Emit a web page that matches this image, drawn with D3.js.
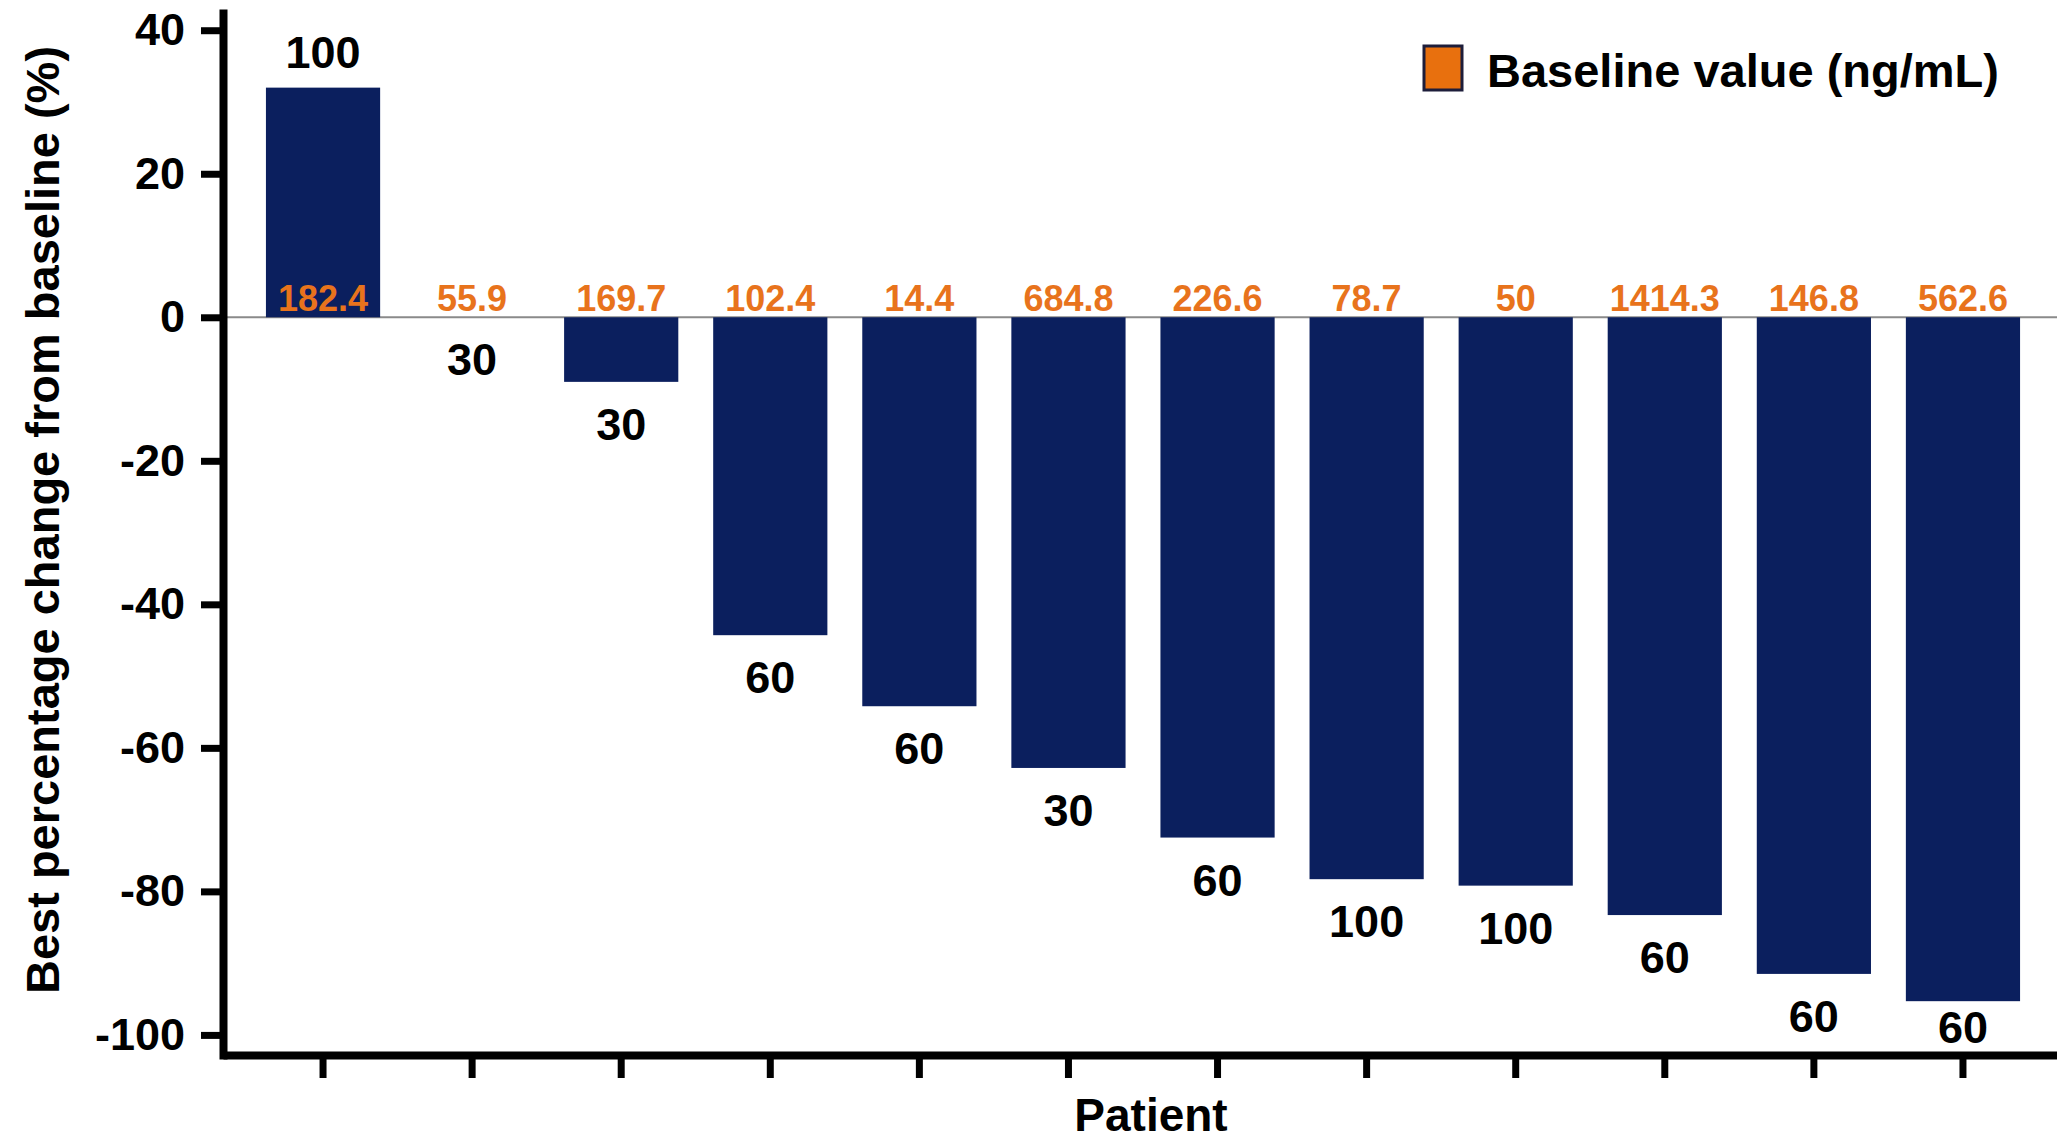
<!DOCTYPE html>
<html>
<head>
<meta charset="utf-8">
<script src="https://cdn.jsdelivr.net/npm/d3@7"></script>
<style>
  html, body { margin: 0; padding: 0; background: #fff; }
  svg { display: block; }
  text { font-family: "Liberation Sans", Arial, sans-serif; font-weight: bold; }
</style>
</head>
<body>
<svg id="chart" width="2057" height="1143"></svg>
<script>
// ---- data ----
const patients = ["P1","P2","P3","P4","P5","P6","P7","P8","P9","P10","P11","P12"];
const bestChange = [32.0, 0, -9.0, -44.3, -54.2, -62.8, -72.5, -78.3, -79.2, -83.3, -91.5, -95.3];
const doseLabels = ["100","30","30","60","60","30","60","100","100","60","60","60"];
const baselineValues = ["182.4","55.9","169.7","102.4","14.4","684.8","226.6","78.7","50","1414.3","146.8","562.6"];
const yTicks = [40, 20, 0, -20, -40, -60, -80, -100];
const legendLabel = "Baseline value (ng/mL)";
const yTitle = "Best percentage change from baseline (%)";
const xTitle = "Patient";

// ---- layout ----
const W = 2057, H = 1143;
const axisX = 223, axisY = 1055, topY = 13;
const navy = "#0b1f5e", orange = "#E8731C";

const svg = d3.select("#chart");

const x = d3.scaleBand()
  .domain(patients)
  .range([axisX, 2063])
  .paddingInner(0.234)
  .paddingOuter(0.288);

const y = d3.scaleLinear()
  .domain([-102.8, 42.4])
  .range([axisY, topY]);

// zero line
svg.append("line")
  .attr("x1", axisX).attr("x2", W)
  .attr("y1", y(0)).attr("y2", y(0))
  .attr("stroke", "#8a8a8a").attr("stroke-width", 2);

// bars
svg.append("g").selectAll("rect")
  .data(patients)
  .join("rect")
  .attr("x", d => x(d))
  .attr("width", x.bandwidth())
  .attr("y", (d, i) => y(Math.max(0, bestChange[i])))
  .attr("height", (d, i) => Math.abs(y(bestChange[i]) - y(0)))
  .attr("fill", navy);

// baseline value labels (orange)
svg.append("g").selectAll("text")
  .data(patients)
  .join("text")
  .attr("x", d => x(d) + x.bandwidth() / 2)
  .attr("y", y(0) - 6)
  .attr("text-anchor", "middle")
  .attr("font-size", 36)
  .attr("fill", orange)
  .text((d, i) => baselineValues[i]);

// dose labels (black)
svg.append("g").selectAll("text")
  .data(patients)
  .join("text")
  .attr("x", d => x(d) + x.bandwidth() / 2)
  .attr("y", (d, i) => {
    const v = bestChange[i];
    if (v > 0) return y(v) - 20;
    return Math.min(y(v) + 58, axisY - 12);
  })
  .attr("text-anchor", "middle")
  .attr("font-size", 45)
  .attr("fill", "#000")
  .text((d, i) => doseLabels[i]);

// y axis
const yAxis = d3.axisLeft(y)
  .tickValues(yTicks)
  .tickFormat(d => String(d))
  .tickSize(22)
  .tickSizeOuter(0)
  .tickPadding(16);
const gy = svg.append("g")
  .attr("transform", `translate(${axisX},0)`)
  .call(yAxis);
gy.select(".domain").attr("stroke", "#000").attr("stroke-width", 8).attr("stroke-linecap", "square");
gy.selectAll(".tick line").attr("stroke", "#000").attr("stroke-width", 7);
gy.selectAll(".tick text")
  .attr("font-size", 45)
  .attr("font-family", "Liberation Sans, Arial, sans-serif")
  .attr("font-weight", "bold")
  .attr("fill", "#000");

// x axis
const xAxis = d3.axisBottom(x)
  .tickFormat("")
  .tickSize(23)
  .tickSizeOuter(0);
const gx = svg.append("g")
  .attr("transform", `translate(0,${axisY})`)
  .call(xAxis);
gx.select(".domain").attr("stroke", "#000").attr("stroke-width", 8);
gx.selectAll(".tick line").attr("stroke", "#000").attr("stroke-width", 7);

// axis titles
svg.append("text")
  .attr("transform", `translate(59,520) rotate(-90)`)
  .attr("text-anchor", "middle")
  .attr("font-size", 47)
  .attr("fill", "#000")
  .text(yTitle);

svg.append("text")
  .attr("x", 1151)
  .attr("y", 1131)
  .attr("text-anchor", "middle")
  .attr("font-size", 46)
  .attr("fill", "#000")
  .text(xTitle);

// legend
svg.append("rect")
  .attr("x", 1424).attr("y", 46)
  .attr("width", 38).attr("height", 44)
  .attr("fill", "#E8700E")
  .attr("stroke", "#1d1d3a").attr("stroke-width", 3);
svg.append("text")
  .attr("x", 1487).attr("y", 87)
  .attr("font-size", 47)
  .attr("fill", "#000")
  .text(legendLabel);
</script>
</body>
</html>
